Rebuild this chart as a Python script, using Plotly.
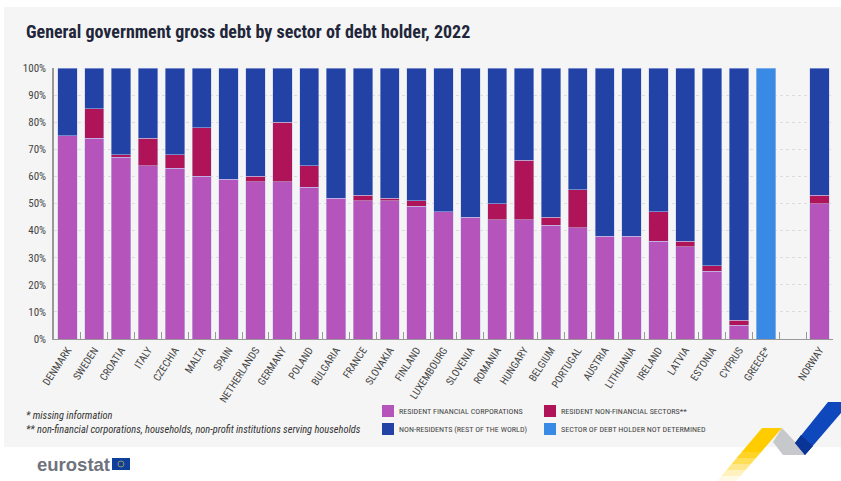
import plotly.graph_objects as go

countries = ["DENMARK","SWEDEN","CROATIA","ITALY","CZECHIA","MALTA","SPAIN","NETHERLANDS","GERMANY","POLAND",
             "BULGARIA","FRANCE","SLOVAKIA","FINLAND","LUXEMBOURG","SLOVENIA","ROMANIA","HUNGARY","BELGIUM",
             "PORTUGAL","AUSTRIA","LITHUANIA","IRELAND","LATVIA","ESTONIA","CYPRUS","GREECE*"," ","NORWAY"]
financial = [75,74,67,64,63,60,59,58,58,56,52,51,51,49,47,45,44,44,42,41,38,38,36,34,25,5,None,None,50]
non_financial = [None,11,1,10,5,18,None,2,22,8,None,2,1,2,None,None,6,22,3,14,None,None,11,2,2,2,None,None,3]
non_residents = [25,15,32,26,32,22,41,40,20,36,48,47,48,49,53,55,50,34,55,45,62,62,53,64,73,93,None,None,47]
undetermined = [None]*26 + [100,None,None]
y_ticks = [0,10,20,30,40,50,60,70,80,90,100]
y_labels = ["0%","10%","20%","30%","40%","50%","60%","70%","80%","90%","100%"]
legend_names = ["RESIDENT FINANCIAL CORPORATIONS","RESIDENT NON-FINANCIAL SECTORS**",
                "NON-RESIDENTS (REST OF THE WORLD)","SECTOR OF DEBT HOLDER NOT DETERMINED"]
bar_colors = ["#b555bb","#ae1457","#2342a5","#398ae4"]

W, H = 841, 481
L, R, T, B = 54, 833, 68, 339
NARROW = "Roboto Condensed, Lato, sans-serif"
px = lambda x: (x - L) / (R - L)
py = lambda y: (B - y) / (B - T)

def poly(points, color, layer="above", opacity=1):
    d = "M" + " L".join(f"{px(x):.5f},{py(y):.5f}" for x, y in points) + " Z"
    return dict(type="path", xref="paper", yref="paper", path=d, fillcolor=color, opacity=opacity,
                line=dict(width=0), layer=layer)

fig = go.Figure()
for name, vals, col in zip(legend_names, [financial, non_financial, non_residents, undetermined], bar_colors):
    fig.add_trace(go.Bar(name=name, x=countries, y=vals, showlegend=False,
                         marker=dict(color=col, line=dict(width=0.5, color="#c4cdf0"))))

shapes = [dict(type="rect", xref="paper", yref="paper", x0=px(4), x1=px(841), y0=py(447), y1=py(7),
               fillcolor="#f5f5f5", line=dict(width=0), layer="below")]
# ribbon decoration
y_slices = [428, 452, 458, 464, 470, 476, 481]
x_left = lambda y: 762 - (y - 428) * 44 / 52
x_right = lambda y: 782 - (y - 428) * 45 / 52
for i in range(len(y_slices) - 1):
    a, b = y_slices[i], y_slices[i + 1]
    shapes.append(poly([(x_left(a), a), (x_right(a), a), (x_right(b), b), (x_left(b), b)],
                       "#ffcc00", opacity=[1, .85, .65, .45, .25, .1][i]))
shapes.append(poly([(782,428),(800,447),(805,455),(783,455),(773,442)], "#c6c8cc"))
shapes.append(poly([(828,402),(841,402),(841,413),(805,455),(795,443)], "#0f47bd"))
shapes.append(poly([(801,435),(813,446),(805,455),(795,443)], "#0a3596"))
# eurostat flag
shapes.append(dict(type="rect", xref="paper", yref="paper", x0=px(112), x1=px(130), y0=py(470), y1=py(458),
                   fillcolor="#0e3f9c", line=dict(width=0)))
shapes.append(dict(type="circle", xref="paper", yref="paper", x0=px(118), x1=px(124), y0=py(467), y1=py(461),
                   fillcolor="rgba(0,0,0,0)", line=dict(width=0.8, color="#b8a84a")))

def note(text, x, y, **font):
    return dict(text=text, xref="paper", yref="paper", x=px(x), y=py(y), xanchor="left", yanchor="middle",
                showarrow=False, font=font, borderpad=0, borderwidth=0)

annotations = [
    note("<i>* missing information</i>", 26, 415, size=10.4, color="#333", family=NARROW),
    note("<i>** non-financial corporations, households, non-profit institutions serving households</i>", 26, 429,
         size=10.4, color="#333", family=NARROW),
    note("<b>eurostat</b>", 37, 464, size=18.5, color="#6f737d", family="Liberation Sans, sans-serif"),
]
# legend: two rows, two columns
positions = [(382, 411), (544, 411), (382, 429), (544, 429)]
for name, col, (x, y) in zip(legend_names, bar_colors, positions):
    shapes.append(dict(type="rect", xref="paper", yref="paper", x0=px(x), x1=px(x + 12), y0=py(y + 6), y1=py(y - 6),
                       fillcolor=col, line=dict(width=0)))
    annotations.append(note(name, x + 17, y, size=8.1, color="#444", family=NARROW))

fig.update_layout(
    width=W, height=H, margin=dict(l=L, r=W - R, t=T, b=H - B, autoexpand=False),
    paper_bgcolor="white", plot_bgcolor="rgba(0,0,0,0)",
    barmode="stack", bargap=0.28, showlegend=False,
    title=dict(text="<b>General government gross debt by sector of debt holder, 2022</b>", xref="container", yref="container",
               x=26 / W, y=1 - 32 / H, xanchor="left", yanchor="middle",
               font=dict(family=NARROW, size=18, color="#22263a")),
    xaxis=dict(type="category", categoryorder="array", categoryarray=countries, tickson="boundaries",
               ticks="inside", ticklen=7, tickwidth=1, tickcolor="#999", showline=True, linecolor="#999", linewidth=1,
               tickangle=-57, tickfont=dict(family=NARROW, size=10.5, color="#444"), showgrid=False, automargin=False),
    yaxis=dict(range=[0, 100], tickvals=y_ticks, ticktext=y_labels, ticks="outside", ticklen=4,
               tickcolor="rgba(0,0,0,0)", showline=True, linecolor="#999",
               linewidth=1.5, showgrid=True, gridcolor="#dcdcdc", griddash="dot", gridwidth=1, zeroline=False,
               tickfont=dict(family=NARROW, size=11, color="#444"), automargin=False),
    shapes=shapes, annotations=annotations,
)
fig.write_html("out.html", config={"displayModeBar": False}, post_script="document.body.style.margin='0';")
